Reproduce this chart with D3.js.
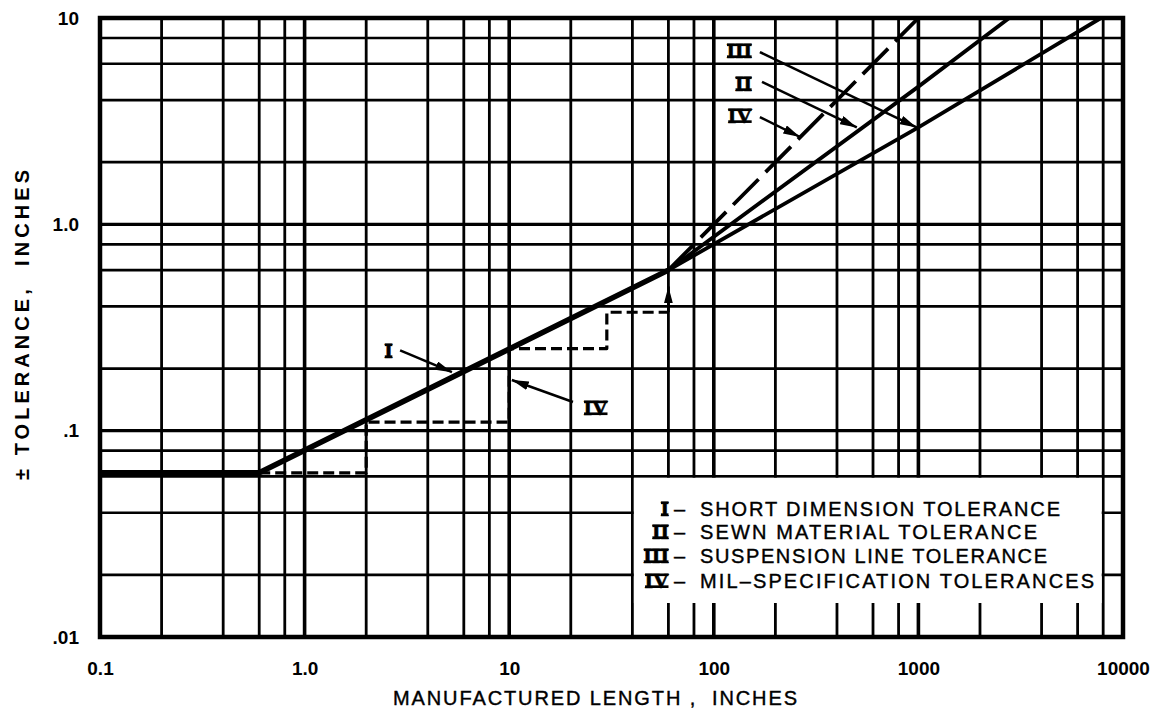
<!DOCTYPE html>
<html><head><meta charset="utf-8">
<script src="https://cdn.jsdelivr.net/npm/d3@7"></script>
<style>body{margin:0;background:#fff} svg{display:block}</style>
</head><body>
<svg id="c" width="1159" height="721"></svg>
<script>
// ---- data ----
const xTickValues = [0.1, 1, 10, 100, 1000, 10000];
const xTickLabels = ["0.1", "1.0", "10", "100", "1000", "10000"];
const yTickValues = [10, 1, 0.1, 0.01];
const yTickLabels = ["10", "1.0", ".1", ".01"];
const xDecades = [0.1, 1, 10, 100, 1000];
const yDecades = [0.01, 0.1, 1];
const gridMultipliers = [1, 2, 4, 6, 8];

// I - short dimension tolerance
const lineI_x = [0.1, 0.6, 60];
const lineI_y = [0.0625, 0.0625, 0.6];
// II - sewn material tolerance
const lineII_x = [60, 1000, 2780];
const lineII_y = [0.6, 4.65, 10];
// III - suspension line tolerance
const lineIII_x = [60, 1000, 7800];
const lineIII_y = [0.6, 2.95, 10];
// IV - mil-specification tolerances (1% line + steps)
const lineIV_x = [60, 1000];
const lineIV_y = [0.6, 10];
const stepIV_x = [0.6, 2, 2, 10, 10, 30, 30, 60];
const stepIV_y = [0.0625, 0.0625, 0.11, 0.11, 0.25, 0.25, 0.375, 0.375];
const stepArrow_x = [60, 60];
const stepArrow_y = [0.375, 0.5];

const legendNumerals = ["I", "II", "III", "IV"];
const legendLabels = ["SHORT DIMENSION TOLERANCE", "SEWN MATERIAL TOLERANCE",
                      "SUSPENSION LINE TOLERANCE", "MIL\u2013SPECIFICATION TOLERANCES"];

// annotation callouts (data coordinates)
const annoNumerals = ["III", "II", "IV", "I", "IV"];
const annoLabelX = [154, 154, 154, 2.7, 30.4];
const annoLabelY = [6.4, 4.43, 3.1, 0.225, 0.119];
const annoFromX = [168, 172, 168, 2.93, 20.5];
const annoFromY = [6.84, 4.9, 3.31, 0.245, 0.1377];
const annoToX = [980, 500, 264, 5.25, 10.3];
const annoToY = [2.95, 2.95, 2.65, 0.192, 0.176];

// ---- drawing ----
const svg = d3.select("#c");
const L = 100, R = 1123, T = 18, B = 637;
const x = d3.scaleLog().domain([0.1, 10000]).range([L, R]);
const y = d3.scaleLog().domain([0.01, 10]).range([B, T]);
const sans = "'Liberation Sans', Arial, Helvetica, sans-serif";
const serif = "'Liberation Serif', 'Times New Roman', serif";

svg.append("rect").attr("width", 1159).attr("height", 721).attr("fill", "#fff");

svg.append("defs").append("marker")
  .attr("id", "ah").attr("markerUnits", "userSpaceOnUse")
  .attr("viewBox", "0 0 17 9").attr("markerWidth", 17).attr("markerHeight", 9)
  .attr("refX", 17).attr("refY", 4.5).attr("orient", "auto")
  .append("path").attr("d", "M0,0 L17,4.5 L0,9 Z").attr("fill", "#000");

// grid
const xGrid = [];
xDecades.forEach(d => gridMultipliers.forEach(m => xGrid.push(d * m)));
xGrid.push(10000);
const yGrid = [];
yDecades.forEach(d => gridMultipliers.forEach(m => yGrid.push(d * m)));
yGrid.push(10);
const isDecade = v => Math.abs(Math.log10(v) - Math.round(Math.log10(v))) < 1e-9;

const grid = svg.append("g");
grid.selectAll(".vx").data(xGrid).join("line")
  .attr("x1", d => x(d)).attr("x2", d => x(d)).attr("y1", T).attr("y2", B)
  .attr("stroke", "#000").attr("stroke-width", d => isDecade(d) ? 3.6 : 2.8);
grid.selectAll(".hy").data(yGrid).join("line")
  .attr("y1", d => y(d)).attr("y2", d => y(d)).attr("x1", L).attr("x2", R)
  .attr("stroke", "#000").attr("stroke-width", d => isDecade(d) ? 3.4 : 2.7);

// legend box (white, bounded by the 40 / 8000 / 0.06 grid lines)
const lgX0 = x(40), lgX1 = x(8000), lgY0 = y(0.06), lgY1 = 603;
svg.append("rect")
  .attr("x", lgX0 + 1.5).attr("y", lgY0 + 1.4)
  .attr("width", lgX1 - lgX0 - 3).attr("height", lgY1 - lgY0 - 1.4)
  .attr("fill", "#fff");

// frame
svg.append("rect").attr("x", L).attr("y", T).attr("width", R - L).attr("height", B - T)
  .attr("fill", "none").attr("stroke", "#000").attr("stroke-width", 4.5);

// lines
const lineGen = d3.line().x(d => x(d[0])).y(d => y(d[1]));
const pts = (xs, ys) => xs.map((v, i) => [v, ys[i]]);
const plot = svg.append("g").attr("fill", "none").attr("stroke", "#000")
  .attr("stroke-linejoin", "round");
plot.append("path").attr("d", lineGen(pts(stepIV_x, stepIV_y)))
  .attr("stroke-width", 3.2).attr("stroke-dasharray", "11,5");
plot.append("path").attr("d", lineGen(pts(lineIII_x, lineIII_y))).attr("stroke-width", 3.8);
plot.append("path").attr("d", lineGen(pts(lineII_x, lineII_y))).attr("stroke-width", 3.8);
plot.append("path").attr("d", lineGen(pts(lineIV_x, lineIV_y)))
  .attr("stroke-width", 3.8).attr("stroke-dasharray", "36,10");
plot.append("path").attr("d", lineGen(pts(lineI_x, lineI_y))).attr("stroke-width", 5.5);
plot.append("path").attr("d", lineGen(pts(stepArrow_x, stepArrow_y)))
  .attr("stroke-width", 2.8).attr("marker-end", "url(#ah)");

// roman numerals with bars
function numeral(g, txt, px, py, size) {
  const t = g.append("text").attr("x", px).attr("y", py).attr("text-anchor", "end")
    .attr("font-family", serif).attr("font-weight", "bold").attr("font-size", size)
    .attr("stroke", "#000").attr("stroke-width", 0.6)
    .text(txt);
  const w = t.node().getComputedTextLength();
  const cap = size * 0.66, th = Math.max(2.4, size * 0.12);
  g.append("rect").attr("x", px - w + 0.5).attr("y", py - cap).attr("width", w - 1).attr("height", th);
  g.append("rect").attr("x", px - w + 0.5).attr("y", py - th).attr("width", w - 1).attr("height", th);
}

// annotations
const anno = svg.append("g");
annoNumerals.forEach((n, i) => {
  numeral(anno, n, x(annoLabelX[i]), y(annoLabelY[i]), 22);
  anno.append("line")
    .attr("x1", x(annoFromX[i])).attr("y1", y(annoFromY[i]))
    .attr("x2", x(annoToX[i])).attr("y2", y(annoToY[i]))
    .attr("stroke", "#000").attr("stroke-width", 2.5).attr("marker-end", "url(#ah)");
});

// legend
const lg = svg.append("g");
const rowBase = [516, 539, 563, 588];
const rowEnd = [1060, 1037, 1047, 1094];
legendNumerals.forEach((n, i) => {
  numeral(lg, n, 669, rowBase[i], 22);
  lg.append("text").attr("x", 674).attr("y", rowBase[i])
    .attr("font-family", sans).attr("font-size", 20)
    .attr("stroke", "#000").attr("stroke-width", 0.4).text("\u2013");
  lg.append("text").attr("x", 700).attr("y", rowBase[i])
    .attr("font-family", sans).attr("font-size", 20)
    .attr("stroke", "#000").attr("stroke-width", 0.4)
    .attr("textLength", rowEnd[i] - 700).attr("lengthAdjust", "spacing")
    .text(legendLabels[i]);
});

// axes (labels only)
const xAxis = d3.axisBottom(x).tickValues(xTickValues)
  .tickFormat((d, i) => xTickLabels[i]).tickSize(0).tickPadding(0);
const gx = svg.append("g").attr("transform", `translate(0,${B + 24})`).call(xAxis);
gx.select(".domain").remove();
gx.selectAll("text").attr("font-family", sans).attr("font-size", 19)
  .attr("font-weight", "bold").attr("fill", "#000").attr("dy", "0.71em").attr("y", 0);

const yAxis = d3.axisLeft(y).tickValues(yTickValues)
  .tickFormat((d, i) => yTickLabels[i]).tickSize(0).tickPadding(0);
const gy = svg.append("g").attr("transform", `translate(${L - 21},0)`).call(yAxis);
gy.select(".domain").remove();
gy.selectAll("text").attr("font-family", sans).attr("font-size", 19)
  .attr("font-weight", "bold").attr("fill", "#000");

// titles
svg.append("text").attr("x", 595).attr("y", 705).attr("text-anchor", "middle")
  .attr("font-family", sans).attr("font-size", 20).style("white-space", "pre")
  .attr("stroke", "#000").attr("stroke-width", 0.4)
  .attr("textLength", 404).attr("lengthAdjust", "spacing")
  .text("MANUFACTURED LENGTH ,  INCHES");
svg.append("text").attr("transform", "translate(29,325) rotate(-90)")
  .attr("text-anchor", "middle").attr("font-family", sans).attr("font-size", 20)
  .attr("font-weight", "bold").style("white-space", "pre")
  .attr("textLength", 310).attr("lengthAdjust", "spacing")
  .text("\u00B1 TOLERANCE,  INCHES");
</script>
</body></html>
